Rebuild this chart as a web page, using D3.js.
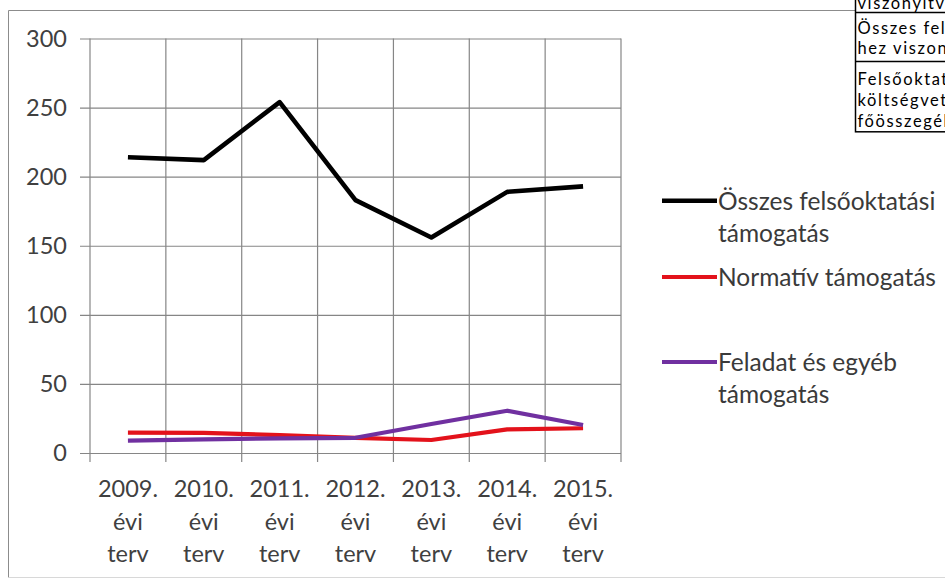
<!DOCTYPE html>
<html>
<head>
<meta charset="utf-8">
<script src="https://cdn.jsdelivr.net/npm/d3@7"></script>
<style>
  html, body { margin: 0; padding: 0; background: #fff; }
  svg { display: block; }
  text { font-family: Lato, "Open Sans", sans-serif; }
</style>
</head>
<body>
<svg id="chart" width="945" height="580"></svg>
<script>
// ---- data ----
const categories = ["2009.", "2010.", "2011.", "2012.", "2013.", "2014.", "2015."];
const categorySub = ["évi", "terv"];
const seriesNames = ["Összes felsőoktatási támogatás", "Normatív támogatás", "Feladat és egyéb támogatás"];
const totalSupport = [214, 212, 254, 183, 156, 189, 193];
const normativeSupport = [14.7, 14.5, 13, 11, 9.4, 17.1, 17.9];
const taskSupport = [8.9, 9.9, 10.6, 11, 21, 30.6, 20.3];
const yTicks = [0, 50, 100, 150, 200, 250, 300];
const legendLines = [["Összes felsőoktatási", "támogatás"], ["Normatív támogatás"], ["Feladat és egyéb", "támogatás"]];
const tableRows = [["viszonyítva"], ["Összes felsőoktatási támogatás-", "hez viszonyítva"], ["Felsőoktatási", "költségvetési", "főösszegéhez"]];
const colors = ["#000000", "#e3121b", "#7030a0"];

(function () {
const svg = d3.select("#chart");
const W = 945, H = 580;
const pL = 90, pR = 621, pT = 38.5, pB = 453;

const x = d3.scaleBand().domain(categories).range([pL, pR]).padding(0);
const y = d3.scaleLinear().domain([0, 300]).range([pB, pT]);

// outer chart border
svg.append("path")
  .attr("d", `M8.5,${H - 2.5} L8.5,10.5 L${W + 5},10.5`)
  .attr("fill", "none").attr("stroke", "#8c8c8c").attr("stroke-width", 1);
svg.append("line").attr("x1", 8.5).attr("x2", W).attr("y1", 577.5).attr("y2", 577.5)
  .attr("stroke", "#d8d8d8").attr("stroke-width", 1);

// horizontal gridlines + y labels
const yAxis = d3.axisLeft(y).tickValues(yTicks).tickSize(-(pR - 80)).tickPadding(13);
const gy = svg.append("g").attr("transform", "translate(80,0)").call(yAxis);
gy.select(".domain").remove();
gy.selectAll(".tick line").attr("stroke", "#868686").attr("stroke-width", 1.2);
gy.selectAll(".tick text").attr("font-size", 23.5).attr("fill", "#404040")
  .attr("font-family", "Lato, sans-serif");

// vertical gridlines at category boundaries
const bounds = categories.map(c => x(c)).concat([x.range()[1]]);
svg.append("g").selectAll("line").data(bounds).join("line")
  .attr("x1", d => d).attr("x2", d => d)
  .attr("y1", y(300)).attr("y2", y(0) + 9)
  .attr("stroke", "#868686").attr("stroke-width", 1.2);

// x labels
const xl = svg.append("g").selectAll("text").data(categories).join("text")
  .attr("text-anchor", "middle").attr("font-size", 23.5).attr("fill", "#404040")
  .attr("x", d => x(d) + x.bandwidth() / 2);
xl.each(function(d) {
  const t = d3.select(this);
  const cx = x(d) + x.bandwidth() / 2;
  [d].concat(categorySub).forEach((s, i) => {
    t.append("tspan").attr("x", cx).attr("y", 497 + i * 32.5).text(s);
  });
});

// lines
const allSeries = [totalSupport, normativeSupport, taskSupport];
const widths = [4.6, 4.2, 4.2];
const line = d3.line()
  .x((d, i) => x(categories[i]) + x.bandwidth() / 2)
  .y(d => y(d));
[0, 1, 2].forEach(k => {
  svg.append("path").datum(allSeries[k])
    .attr("d", line).attr("fill", "none")
    .attr("stroke", colors[k]).attr("stroke-width", widths[k])
    .attr("stroke-linejoin", "round");
});

// legend
const legendY = [200.7, 277, 362];
legendLines.forEach((lines, k) => {
  const g = svg.append("g");
  g.append("line").attr("x1", 662).attr("x2", 717)
    .attr("y1", legendY[k]).attr("y2", legendY[k])
    .attr("stroke", colors[k]).attr("stroke-width", widths[k]);
  const t = g.append("text").attr("font-size", 24.5).attr("fill", "#3a3a3a");
  lines.forEach((s, i) => {
    t.append("tspan").attr("x", 718).attr("y", legendY[k] + 9 + i * 32).text(s);
  });
});

// partial table at top-right
const tg = svg.append("g");
tg.append("rect").attr("x", 855.5).attr("y", -40).attr("width", 200).attr("height", 171.8)
  .attr("fill", "#fff").attr("stroke", "#000").attr("stroke-width", 1.5);
[12.5, 61.5].forEach(yy => tg.append("line").attr("x1", 855.5).attr("x2", W + 5)
  .attr("y1", yy).attr("y2", yy).attr("stroke", "#000").attr("stroke-width", 1.5));
const rowBase = [[9.3], [33.5, 54], [84.5, 105.5, 126.5]];
tableRows.forEach((rows, r) => {
  rows.forEach((s, i) => {
    tg.append("text").attr("x", 857.5).attr("y", rowBase[r][i])
      .attr("font-size", 16.5).attr("letter-spacing", 1.6).attr("fill", "#000").text(s);
  });
});
})();
</script>
</body>
</html>
